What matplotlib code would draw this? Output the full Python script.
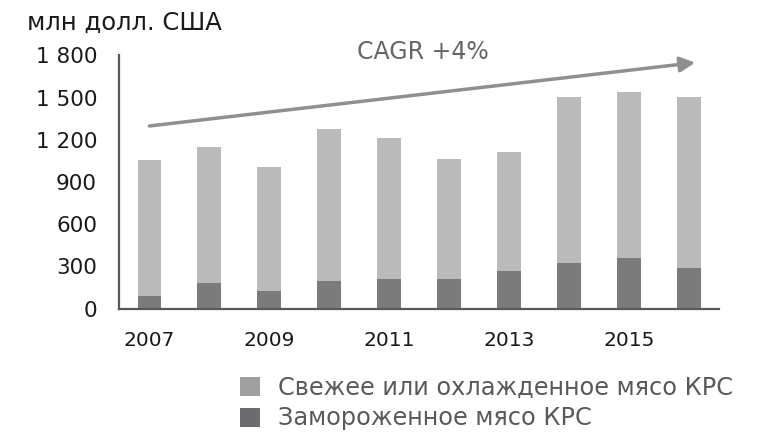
import matplotlib
matplotlib.use("Agg")
import matplotlib.pyplot as plt
from matplotlib.patches import Patch
import numpy as np

years = [2007, 2008, 2009, 2010, 2011, 2012, 2013, 2014, 2015, 2016]
frozen = [90, 183, 126, 195, 209, 213, 270, 327, 362, 289]
fresh = [967, 968, 883, 1084, 1002, 849, 844, 1178, 1178, 1216]
yticks = [0, 300, 600, 900, 1200, 1500, 1800]
ytick_labels = ["0", "300", "600", "900", "1 200", "1 500", "1 800"]
xtick_years = [2007, 2009, 2011, 2013, 2015]
series_names = ["Свежее или охлажденное мясо КРС", "Замороженное мясо КРС"]
unit_label = "млн долл. США"
cagr_label = "CAGR +4%"
trend_start = 1298
trend_end = 1748

c_light = "#bababa"
c_dark = "#7b7b7b"
axis_col = "#595959"

plt.rcParams['font.family'] = ['DejaVu Sans']

fig = plt.figure(figsize=(7.71, 4.33), dpi=100)
ax = fig.add_axes([119.3 / 771, 1 - 308.7 / 433, 599.3 / 771, (308.7 - 55.3) / 433])

x = np.arange(len(years))
ax.bar(x, frozen, width=0.4, color=c_dark, edgecolor="none", zorder=2)
ax.bar(x, fresh, width=0.4, bottom=frozen, color=c_light, edgecolor="none", zorder=2)

ax.set_xlim(-0.504, 9.5)
ax.set_ylim(0, 1800)
ax.set_yticks(yticks)
ax.set_yticklabels(ytick_labels)
ax.set_xticks([years.index(y) for y in xtick_years])
ax.set_xticklabels([str(y) for y in xtick_years])
ax.tick_params(axis='y', length=0, pad=16, labelsize=15.5, labelcolor="#1a1a1a")
ax.tick_params(axis='x', length=0, pad=16, labelsize=14.5, labelcolor="#1a1a1a")
for s in ["top", "right"]:
    ax.spines[s].set_visible(False)
for s in ["left", "bottom"]:
    ax.spines[s].set_color(axis_col)
    ax.spines[s].set_linewidth(1.6)

# trend arrow
ax.annotate("", xy=(9.11, trend_end), xytext=(0, trend_start),
            arrowprops=dict(arrowstyle="-|>,head_length=0.9,head_width=0.45",
                            color="#8f8f8f", lw=2.5, shrinkA=0, shrinkB=0),
            zorder=3, annotation_clip=False)
fig.text(422.5 / 771, 1 - 52 / 433, cagr_label, ha="center", va="center",
         fontsize=17, color="#666666")

fig.text(27 / 771, 1 - 23 / 433, unit_label, ha="left", va="center",
         fontsize=17.5, color="#1a1a1a")

handles = [Patch(facecolor="#9f9f9f", edgecolor="none"),
           Patch(facecolor="#6b6b70", edgecolor="none")]
leg = fig.legend(handles, series_names, loc="upper left",
                 bbox_to_anchor=(240 / 771, 1 - 376 / 433), frameon=False,
                 prop={"family": "DejaVu Sans", "size": 17.3},
                 handlelength=0.85, handleheight=0.85, handletextpad=0.75,
                 labelspacing=0.27, borderpad=0, borderaxespad=0)
for t in leg.get_texts():
    t.set_color("#595959")

fig.savefig("out.png", dpi=100)
